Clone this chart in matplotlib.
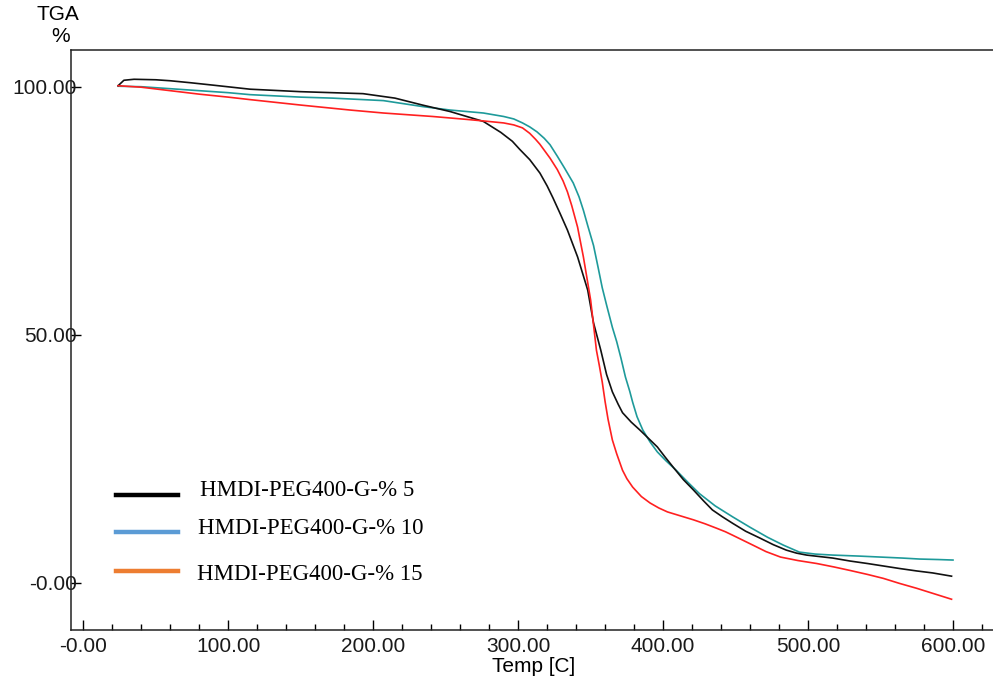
import matplotlib
matplotlib.use("Agg")
import matplotlib.pyplot as plt
from matplotlib.lines import Line2D
import numpy as np

# ---- data ----
t_black = [24, 28, 35, 50, 60, 74, 90, 115, 150, 193, 215, 234, 253, 276, 288, 296, 301, 308, 315, 320, 324, 329, 334,
           341, 348, 352, 357, 361, 365, 369, 372, 378, 384, 390, 396, 401, 407, 414, 421, 428, 434, 441, 448, 457,
           467, 476, 485, 492, 499, 508, 517, 529, 541, 552, 563, 575, 586, 599]
w_black = [100.2, 101.3, 101.5, 101.4, 101.2, 100.8, 100.3, 99.5, 99.0, 98.6, 97.7, 96.3, 95.0, 93.0, 90.8, 89.0, 87.4, 85.3, 82.6, 80.0, 77.6, 74.4, 71.1,
           65.7, 59.0, 52.4, 46.9, 42.0, 38.5, 36.0, 34.3, 32.4, 30.8, 29.1, 27.4, 25.5, 23.3, 20.8, 18.7, 16.5, 14.7, 13.3, 12.0, 10.4,
           9.0, 7.7, 6.6, 6.0, 5.6, 5.3, 5.0, 4.4, 3.9, 3.4, 2.9, 2.4, 2.0, 1.35]

t_teal = [24, 40, 60, 80, 100, 115, 150, 172, 207, 234, 253, 276, 290, 297, 303, 308, 313, 318, 322, 327, 332, 338, 342, 345,
          348, 352, 355, 358, 361, 365, 368, 371, 374, 377, 379, 382, 386, 391, 396, 402, 409, 417, 425, 436, 448, 460,
          472, 483, 494, 505, 517, 535, 550, 565, 577, 590, 600]
w_teal = [100.1, 100.0, 99.6, 99.2, 98.8, 98.4, 97.9, 97.7, 97.2, 96.0, 95.3, 94.7, 94.0, 93.5, 92.7, 91.9, 90.9, 89.6, 88.3, 86.0, 83.6, 80.6, 77.8, 75.1,
          72.0, 68.0, 63.8, 59.5, 56.0, 51.5, 48.6, 45.2, 41.5, 38.6, 36.4, 33.5, 30.8, 28.4, 26.4, 24.6, 22.7, 20.3, 18.0, 15.5, 13.3, 11.2,
          9.2, 7.6, 6.2, 5.8, 5.6, 5.4, 5.2, 5.0, 4.8, 4.7, 4.6]

t_red = [24, 40, 60, 80, 100, 115, 150, 184, 207, 241, 265, 276, 290, 297, 303, 308, 312, 315, 318, 322, 327, 331, 334, 337,
         341, 345, 348, 350, 352, 354, 356, 358, 360, 362, 365, 368, 372, 375, 379, 385, 391, 397, 403, 412, 421, 429,
         437, 443, 448, 455, 462, 471, 481, 493, 506, 518, 529, 541, 552, 563, 575, 587, 599]
w_red = [100.2, 99.9, 99.2, 98.5, 97.9, 97.4, 96.3, 95.3, 94.7, 94.0, 93.4, 93.1, 92.7, 92.3, 91.7, 90.6, 89.4, 88.4, 87.2, 85.6, 83.3, 81.0, 78.8, 76.0,
         71.7, 65.7, 60.5, 57.0, 52.0, 46.9, 43.8, 40.5, 36.5, 33.0, 28.8, 26.0, 22.7, 21.0, 19.3, 17.4, 16.1, 15.1, 14.3, 13.5, 12.7, 11.9,
         11.0, 10.3, 9.6, 8.6, 7.6, 6.3, 5.2, 4.5, 3.9, 3.2, 2.5, 1.7, 0.9, -0.1, -1.1, -2.2, -3.3]

legend_labels = ["HMDI-PEG400-G-% 5", "HMDI-PEG400-G-% 10", "HMDI-PEG400-G-% 15"]
legend_colors = ["#000000", "#5B9BD5", "#ED7D31"]

x_major = [0, 100, 200, 300, 400, 500, 600]
x_labels = ["-0.00", "100.00", "200.00", "300.00", "400.00", "500.00", "600.00"]
y_major = [0, 50, 100]
y_labels = ["-0.00", "50.00", "100.00"]

# ---- figure ----
W, H = 993, 682
fig = plt.figure(figsize=(W / 100, H / 100), dpi=100)
ax = fig.add_axes([71 / W, 1 - 630 / H, (993 - 71) / W, (630 - 50) / H])

ax.plot(t_teal, w_teal, color="#1E9A9A", lw=1.2)
ax.plot(t_black, w_black, color="#111111", lw=1.2)
ax.plot(t_red, w_red, color="#FF2020", lw=1.2)

ax.set_xlim(-8.5, 627.6)
ax.set_ylim(-9.5, 107.4)

ax.spines["right"].set_visible(False)
for s in ["left", "top", "bottom"]:
    ax.spines[s].set_linewidth(1.1)
    ax.spines[s].set_color("#222222")

ax.set_xticks(x_major)
ax.set_xticklabels(x_labels)
ax.set_xticks(np.arange(0, 621, 20), minor=True)
ax.set_yticks(y_major)
ax.set_yticklabels(y_labels)

FS = 15
tfont = dict(family=["Liberation Sans", "DejaVu Sans"], size=FS)
ax.tick_params(axis="x", which="major", direction="in", length=7, width=1, pad=5, labelsize=FS)
ax.tick_params(axis="x", which="minor", direction="in", length=4, width=1)
ax.tick_params(axis="y", which="major", direction="in", length=7, width=1, pad=-4, labelsize=FS)
for lab in ax.get_xticklabels() + ax.get_yticklabels():
    lab.set_fontfamily(["Liberation Sans", "DejaVu Sans"])
    lab.set_color("#1a1a1a")

fig.text(58 / W, 1 - 14 / H, "TGA", ha="center", va="center", **tfont)
fig.text(61 / W, 1 - 37 / H, "%", ha="center", va="center", **tfont)
fig.text(534 / W, 1 - 667 / H, "Temp [C]", ha="center", va="center", **tfont)

# legend (as drawn in the reference)
rows_line_y = [495, 532, 571]
rows_text_y = [490, 528, 575]
text_x = [200, 198, 197]
for lab, col, ly, ty, tx in zip(legend_labels, legend_colors, rows_line_y, rows_text_y, text_x):
    fig.add_artist(Line2D([116 / W, 178 / W], [1 - ly / H, 1 - ly / H], color=col, lw=3.2,
                          transform=fig.transFigure))
    fig.text(tx / W, 1 - ty / H, lab, ha="left", va="center",
             family=["Liberation Serif", "DejaVu Serif"], size=16.5)

fig.savefig("out.png", dpi=100)
